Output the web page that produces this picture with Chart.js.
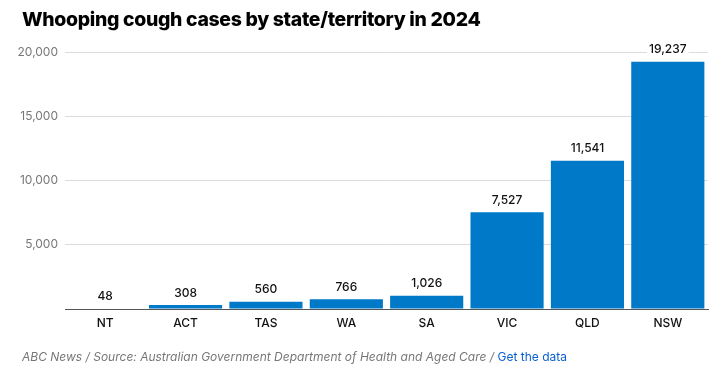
<!DOCTYPE html>
<html>
<head>
<meta charset="utf-8">
<script src="https://cdn.jsdelivr.net/npm/chart.js@4"></script>
<style>
  html, body { margin: 0; padding: 0; background: #fff; }
  body { width: 727px; height: 369px; position: relative; overflow: hidden; font-family: Inter, "Noto Sans", sans-serif; }
  #title { position: absolute; left: 22px; top: 7px; font-size: 19.4px; font-weight: 800; color: #000; letter-spacing: -0.3px; white-space: nowrap; }
  #wrap { position: absolute; left: 0; top: 0; width: 727px; height: 369px; }
  #footer { position: absolute; left: 22px; top: 349px; font-size: 12px; color: #777; font-style: italic; white-space: nowrap; }
  #footer a { color: #0a5fd1; font-style: normal; text-decoration: none; }
</style>
</head>
<body>
<div id="wrap"><canvas id="chart"></canvas></div>
<div id="title">Whooping cough cases by state/territory in 2024</div>
<div id="footer">ABC News / Source: Australian Government Department of Health and Aged Care / <a>Get the data</a></div>
<script>
// data
const states = ["NT", "ACT", "TAS", "WA", "SA", "VIC", "QLD", "NSW"];
const cases = [48, 308, 560, 766, 1026, 7527, 11541, 19237];
const yTicks = [0, 5000, 10000, 15000, 20000];

const fmt = n => n.toLocaleString("en-US");

// labels over the bars, with white box so gridlines break
const barLabels = {
    id: "barLabels",
    afterDatasetsDraw(chart) {
        const ctx = chart.ctx;
        const meta = chart.getDatasetMeta(0);
        ctx.save();
        ctx.font = "500 12px Inter, sans-serif";
        ctx.textAlign = "center";
        ctx.textBaseline = "middle";
        meta.data.forEach((bar, i) => {
            const txt = fmt(cases[i]);
            const w = ctx.measureText(txt).width;
            const y = bar.y - 12;
            ctx.fillStyle = "#fff";
            ctx.fillRect(bar.x - w / 2 - 2, y - 7, w + 4, 14);
            ctx.fillStyle = "#111";
            ctx.fillText(txt, bar.x, y);
        });
        ctx.restore();
    }
};

new Chart(document.getElementById("chart"), {
    type: "bar",
    data: {
        labels: states,
        datasets: [{
            data: cases,
            backgroundColor: "#0079c9",
            barPercentage: 0.91,
            categoryPercentage: 1
        }]
    },
    options: {
        responsive: true,
        maintainAspectRatio: false,
        animation: false,
        layout: { padding: { top: 52, right: 19, left: 0, bottom: 0 } },
        plugins: { legend: { display: false }, tooltip: { enabled: false } },
        scales: {
            x: {
                grid: { display: false, drawTicks: false },
                border: { display: true, color: "#555", width: 1 },
                ticks: { color: "#111", padding: 7, font: { family: "Inter", size: 12, weight: 500 } },
                afterFit: s => { s.height = 60; }
            },
            y: {
                min: 0,
                max: 20000,
                afterBuildTicks: s => { s.ticks = yTicks.map(v => ({ value: v })); },
                grid: { color: "#dcdcdc", drawTicks: false },
                border: { display: false },
                ticks: {
                    color: "#777",
                    padding: 7,
                    font: { family: "Inter", size: 12 },
                    callback: v => v === 0 ? "" : fmt(v)
                },
                afterFit: s => { s.width = 65; }
            }
        }
    },
    plugins: [barLabels]
});
</script>
</body>
</html>
